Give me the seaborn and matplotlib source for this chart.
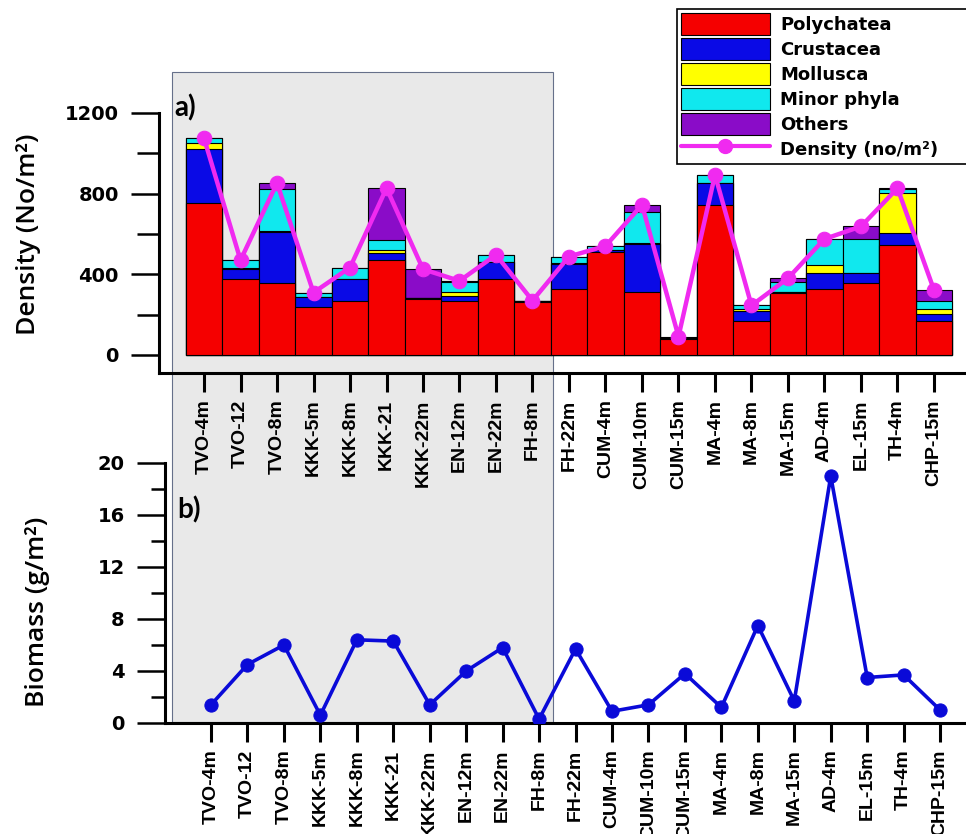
import numpy as np
import pandas as pd
import matplotlib
matplotlib.use("Agg")
import matplotlib.pyplot as plt
from matplotlib.patches import Rectangle, Patch
from matplotlib.lines import Line2D
import seaborn as sns

# Sampling stations (shared by both panels)
stations = ["TVO-4m", "TVO-12", "TVO-8m", "KKK-5m", "KKK-8m", "KKK-21", "KKK-22m",
            "EN-12m", "EN-22m", "FH-8m", "FH-22m", "CUM-4m", "CUM-10m", "CUM-15m",
            "MA-4m", "MA-8m", "MA-15m", "AD-4m", "EL-15m", "TH-4m", "CHP-15m"]

# Group densities (no/m2)
polychaeta = [755, 375, 356, 236, 266, 471, 276, 269, 375, 260, 326,
              512, 314, 78, 744, 170, 309, 326, 356, 546, 169]
crustacea = [265, 50, 253, 50, 111, 33, 5, 24, 86, 9, 125,
             10, 235, 8, 108, 50, 3, 82, 52, 61, 34]
mollusca = [32, 5, 5, 0, 0, 17, 0, 18, 0, 0, 5,
            0, 5, 0, 0, 8, 0, 40, 0, 195, 24]
minor_phyla = [23, 40, 209, 23, 56, 49, 3, 50, 35, 0, 32,
               18, 157, 0, 41, 17, 50, 127, 166, 21, 42]
others = [0, 0, 29, 0, 0, 257, 141, 6, 0, 0, 0,
          0, 33, 5, 0, 0, 18, 0, 63, 4, 53]

# Total density (no/m2)
density = [1075, 470, 852, 309, 433, 827, 425, 367, 496, 269, 488,
           540, 744, 91, 893, 245, 380, 575, 637, 827, 322]

# Biomass (g/m2)
biomass = [1.4, 4.5, 6.0, 0.6, 6.4, 6.3, 1.4, 4.0, 5.8, 0.3, 5.7,
           0.9, 1.4, 3.8, 1.2, 7.5, 1.7, 19.0, 3.5, 3.7, 1.0]

group_names = ["Polychatea", "Crustacea", "Mollusca", "Minor phyla", "Others"]
group_colors = ["#f50000", "#0a0ae6", "#ffff00", "#10e8ee", "#8a0cc8"]
line_magenta = "#f02af0"
line_blue = "#0a0ad8"

sns.set_style("ticks")
plt.rcParams["font.family"] = ["DejaVu Sans"]
plt.rcParams["text.color"] = "black"
plt.rcParams["axes.labelcolor"] = "black"

n = len(stations)
df = pd.DataFrame({
    "station": stations,
    "pos": np.arange(n),
    "Polychatea": polychaeta,
    "Crustacea": crustacea,
    "Mollusca": mollusca,
    "Minor phyla": minor_phyla,
    "Others": others,
    "density": density,
    "biomass": biomass,
})
# running tops of the stacked segments
cum = df[group_names].cumsum(axis=1)

W, H = 966, 834
fig = plt.figure(figsize=(W / 100, H / 100), dpi=100)
fig.patch.set_facecolor("white")

def fx(px):
    return px / W

def fy(py):
    return 1 - py / H

# shaded block behind the first ten stations
fig.add_artist(Rectangle((fx(172), fy(722)), fx(553) - fx(172), fy(72) - fy(722),
                         transform=fig.transFigure, facecolor="#e9e9e9",
                         edgecolor="#66708a", linewidth=0.8, zorder=-1))

ax1 = fig.add_axes([fx(159), fy(373), 1 - fx(159), fy(113) - fy(373)])
ax2 = fig.add_axes([fx(165), fy(723), 1 - fx(165), fy(463) - fy(723)])
for ax in (ax1, ax2):
    ax.set_facecolor("none")
    ax.spines[["top", "right"]].set_visible(False)
    ax.spines[["left", "bottom"]].set_linewidth(2.2)
    ax.spines[["left", "bottom"]].set_color("black")

# ---- a) stacked density bars ----
for name, color in reversed(list(zip(group_names, group_colors))):
    layer = pd.DataFrame({"station": stations, "top": cum[name].values})
    sns.barplot(data=layer, x="station", y="top", order=stations, color=color,
                saturation=1, width=1.0, edgecolor="black", linewidth=0.8,
                errorbar=None, ax=ax1, zorder=2)

sns.lineplot(data=df, x="pos", y="density", color=line_magenta, linewidth=3.2,
             marker="o", markersize=10.5, markeredgecolor=line_magenta,
             ax=ax1, zorder=5)

ax1.set_xlim(-1.233, 20.877)
ax1.set_ylim(-90, 1200)
ax1.set_yticks([0, 400, 800, 1200])
ax1.set_yticks([200, 600, 1000], minor=True)

# ---- b) biomass line ----
sns.lineplot(data=df, x="pos", y="biomass", color=line_blue, linewidth=2.6,
             marker="o", markersize=9.5, markeredgecolor=line_blue, ax=ax2, zorder=5)
ax2.set_xlim(-1.262, 20.71)
ax2.set_ylim(0, 20)
ax2.set_yticks([0, 4, 8, 12, 16, 20])
ax2.set_yticks([2, 6, 10, 14, 18], minor=True)

for ax, minor_len in ((ax1, 16), (ax2, 10)):
    ax.set_xticks(np.arange(n))
    ax.set_xticklabels(stations, rotation=90, fontsize=14, fontweight="bold",
                       family="Liberation Sans")
    ax.set_yticklabels([f"{int(v)}" for v in ax.get_yticks()], fontsize=14,
                       fontweight="bold", family="DejaVu Sans")
    ax.tick_params(axis="y", which="major", length=20, width=1.8, pad=9,
                   direction="out", colors="black")
    ax.tick_params(axis="y", which="minor", length=minor_len, width=1.8,
                   direction="out", colors="black")
    ax.tick_params(axis="x", which="major", length=14, width=2.2, pad=5,
                   direction="out", colors="black")
    ax.set_xlabel("")

ax1.set_ylabel("Density (No/m²)", fontsize=19, family="Open Sans",
               fontweight="semibold", color="black")
ax2.set_ylabel("Biomass (g/m²)", fontsize=19, family="Open Sans",
               fontweight="semibold", color="black")
for ax, (lx, ly) in ((ax1, (29, 234)), (ax2, (37, 612))):
    pos = ax.get_position()
    ax.yaxis.label.set_va("center")
    ax.yaxis.set_label_coords((fx(lx) - pos.x0) / pos.width,
                              (fy(ly) - pos.y0) / pos.height)

fig.text(fx(174), fy(108), "a)", ha="left", va="center", fontsize=20,
         fontweight="bold", family="Lato", color="black")
fig.text(fx(177), fy(510), "b)", ha="left", va="center", fontsize=20,
         fontweight="bold", family="Lato", color="black")

# ---- legend ----
handles = [Patch(facecolor=c, edgecolor="black", linewidth=0.8) for c in group_colors]
handles.append(Line2D([], [], color=line_magenta, linewidth=3.0, marker="o",
                      markersize=10, markeredgecolor=line_magenta))
labels = group_names + ["Density (no/m²)"]
leg = fig.legend(handles, labels, loc="upper left",
                 bbox_to_anchor=(fx(677), 0, 0.4, fy(9)),
                 bbox_transform=fig.transFigure, mode="expand", ncol=1,
                 prop={"family": "DejaVu Sans", "weight": "bold", "size": 13},
                 handlelength=4.95, handleheight=1.54, labelspacing=0.138,
                 handletextpad=0.55, borderpad=0.2, borderaxespad=0,
                 fancybox=False, frameon=True, framealpha=1)
leg.get_frame().set_edgecolor("black")
leg.get_frame().set_linewidth(1.2)

fig.savefig("out.png", dpi=100)
